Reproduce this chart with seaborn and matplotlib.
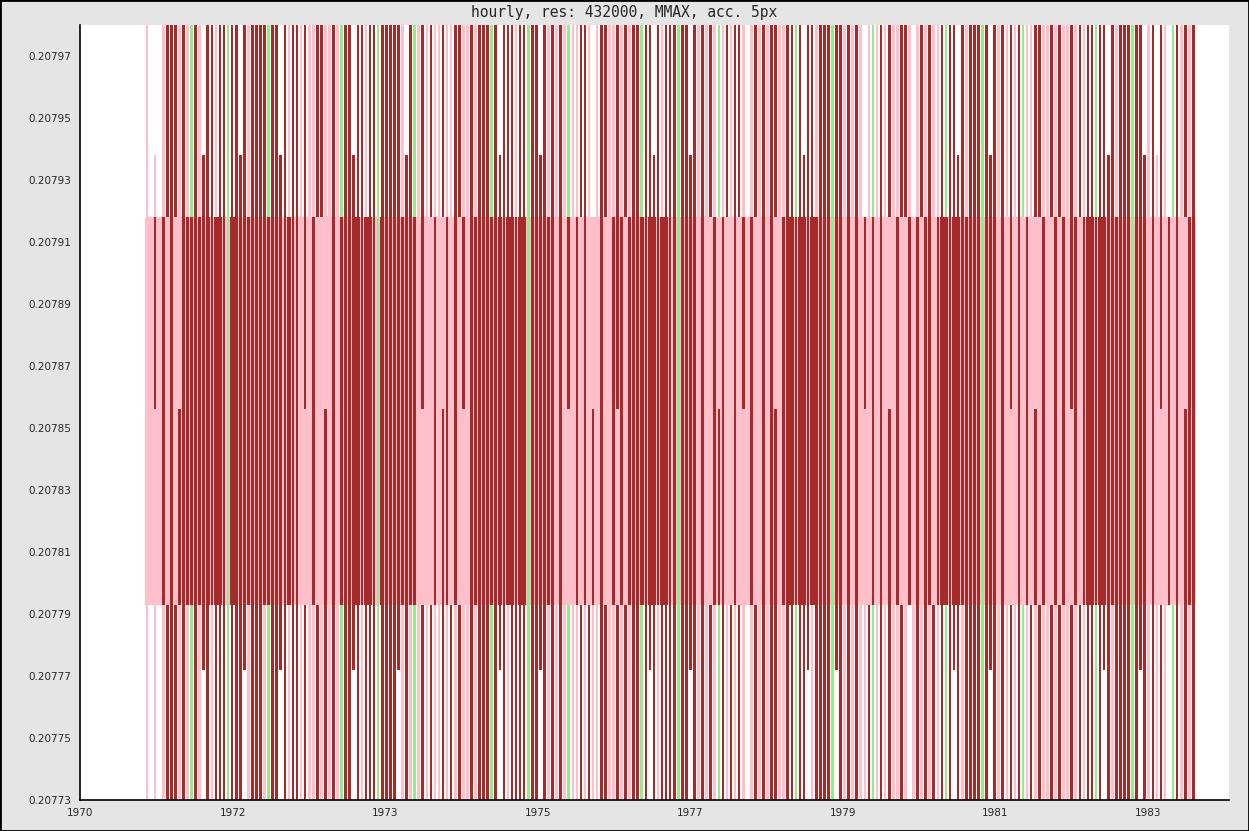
import numpy as np
import matplotlib
matplotlib.use("Agg")
import matplotlib.pyplot as plt
import seaborn as sns

title = "hourly, res: 432000, MMAX, acc. 5px"

# one character per bucket, read left to right off the picture
# p = pink bar, r = dark red bar, g = green bar, w = empty
# upper case = bar stops at the inner step (0.207938 above / 0.207772 below)
outer_top = ("pwPwprrrprp"
             "grpRrrprrgrrRrprrrrgrrRrprr"
             "prpprrpprp"
             "grrRrrprrgrrrrrpRrg"
             "prprpprpprrpprp"
             "rrrgrRrrrprrgrrRrpr"
             "prpgpprrpwprrpprprpr"
             "rgrrRrprrrgrrRr"
             "prprpgprprrpwprprprrpp"
             "rrgrRrrprrrgrr"
             "prprpwpgprprpprrpwprprpp"
             "rgrrRrprrrgrRr"
             "prprprgpprrpprprpprprp"
             "rrgrrRrprrrgrrR"
             "prPrpwgrprpr")
outer_bot = ("pwpwprrrprp"
             "grpRrprrrgrrrRprrrpgrrRrprr"
             "prpprprprp"
             "grrRrprrrgrrrrRprpg"
             "prprpprprprpprp"
             "rrrgrRrprrrrgrrRrpr"
             "prpgpprprpprrpprprpr"
             "rgrRrprrrrgrrRr"
             "prprpgrprprpwprprprrpp"
             "rrgrrRprrrrgRr"
             "prprpprgprprpprpwprprprp"
             "rgrRrprrrrgrRr"
             "prprprgprprpprprpprprp"
             "rrgrRrprrrrgrRr"
             "prprpwgrprpr")
# middle band: p = pink only, r = thin red, R = full red, g = green,
# u / l = thin red only above / below the 0.207856 step
middle = ("ppuprprplrr"
          "rRrRRrRRrgRRRRrRRrRRrRrrRrr"
          "puprpplprp"
          "RRrRRrRRrgRRRrRRrRr"
          "pupprplrprpuprr"
          "rRRrRRrRRrRRgRRrRRr"
          "prpuprprplprpprurprr"
          "RRrRRrRRrRgRRrR"
          "prpprlrpprpuprpprprlpr"
          "RRrRRrRRrRRgRr"
          "prprpuprprplprpprprprrpr"
          "RRrRRrRRrRgRRr"
          "prpuprprplprpprprpurpr"
          "RRrRRrRRrRRgRRr"
          "prpuprprplrr")

first_bucket = 1970.79
last_bucket = 1983.135

# value levels (steps of the series)
y_above = 0.20800
y_top2 = 0.207938
y_mid_hi = 0.207918
y_mid_c = 0.207856
y_mid_lo = 0.207793
y_bot2 = 0.207772
y_below = 0.20770

tick_pos = [1970.0, 1971.8, 1973.6, 1975.4, 1977.2, 1979.0, 1980.8, 1982.6]
tick_lab = ["1970", "1972", "1973", "1975", "1977", "1979", "1981", "1983"]
ytick_vals = [0.20773, 0.20775, 0.20777, 0.20779, 0.20781, 0.20783, 0.20785,
              0.20787, 0.20789, 0.20791, 0.20793, 0.20795, 0.20797]

colors = {"p": "#ffc0cb", "r": "#a52a2a", "g": "#90ee90"}

sns.set_style("white")
plt.rcParams["font.family"] = ["DejaVu Sans"]

fig = plt.figure(figsize=(12.49, 8.31), dpi=100, facecolor="#e5e5e5")
ax = fig.add_axes([80 / 1249, 31 / 831, 1149 / 1249, 775 / 831])
ax.set_facecolor("white")

n = min(len(middle), len(outer_top), len(outer_bot))
xs = np.linspace(first_bucket, last_bucket, n)
pitch = (last_bucket - first_bucket) / (n - 1)
thin = pitch * 0.65

kw = dict(linewidth=0, antialiased=True)

# pink body of the middle band
ax.bar(xs, y_mid_hi - y_mid_lo, bottom=y_mid_lo, width=pitch * 1.05,
       color=colors["p"], **kw)

for i, x in enumerate(xs):
    c = outer_top[i]
    if c.lower() in colors:
        top = y_top2 if c.isupper() else y_above
        ax.bar(x, top - y_mid_hi, bottom=y_mid_hi, width=thin,
               color=colors[c.lower()], **kw)
    c = outer_bot[i]
    if c.lower() in colors:
        bot = y_bot2 if c.isupper() else y_below
        ax.bar(x, y_mid_lo - bot, bottom=bot, width=thin,
               color=colors[c.lower()], **kw)
    c = middle[i]
    if c == "R":
        ax.bar(x, y_mid_hi - y_mid_lo, bottom=y_mid_lo, width=pitch * 0.85,
               color=colors["r"], **kw)
    elif c in ("r", "g"):
        ax.bar(x, y_mid_hi - y_mid_lo, bottom=y_mid_lo, width=thin,
               color=colors[c], **kw)
    elif c == "u":
        ax.bar(x, y_mid_hi - y_mid_c, bottom=y_mid_c, width=thin,
               color=colors["r"], **kw)
    elif c == "l":
        ax.bar(x, y_mid_c - y_mid_lo, bottom=y_mid_lo, width=thin,
               color=colors["r"], **kw)

ax.set_xlim(1970.0, 1983.555)
ax.set_ylim(0.20773, 0.207980)
ax.set_xticks(tick_pos)
ax.set_xticklabels(tick_lab)
ax.set_xticks([t + 0.9 for t in tick_pos], minor=True)
ax.set_yticks(ytick_vals)
ax.set_yticklabels([f"{v:.5f}" for v in ytick_vals])
ax.set_yticks([v + 0.00001 for v in ytick_vals], minor=True)
ax.tick_params(which="both", direction="in", length=4, width=1,
               color="black", labelsize=7.5, pad=6)
for s in ["top", "right"]:
    ax.spines[s].set_visible(False)
for s in ["left", "bottom"]:
    ax.spines[s].set_color("black")
    ax.spines[s].set_linewidth(1.2)
ax.grid(False)

fig.text(0.5, 1 - 13 / 831, title, ha="center", va="center",
         family="DejaVu Sans Mono", fontsize=10.5)
fig.patches.append(plt.Rectangle((0, 0), 1, 1, transform=fig.transFigure,
                                 fill=False, edgecolor="black", linewidth=2))

fig.savefig("out.png", dpi=100, facecolor=fig.get_facecolor())
